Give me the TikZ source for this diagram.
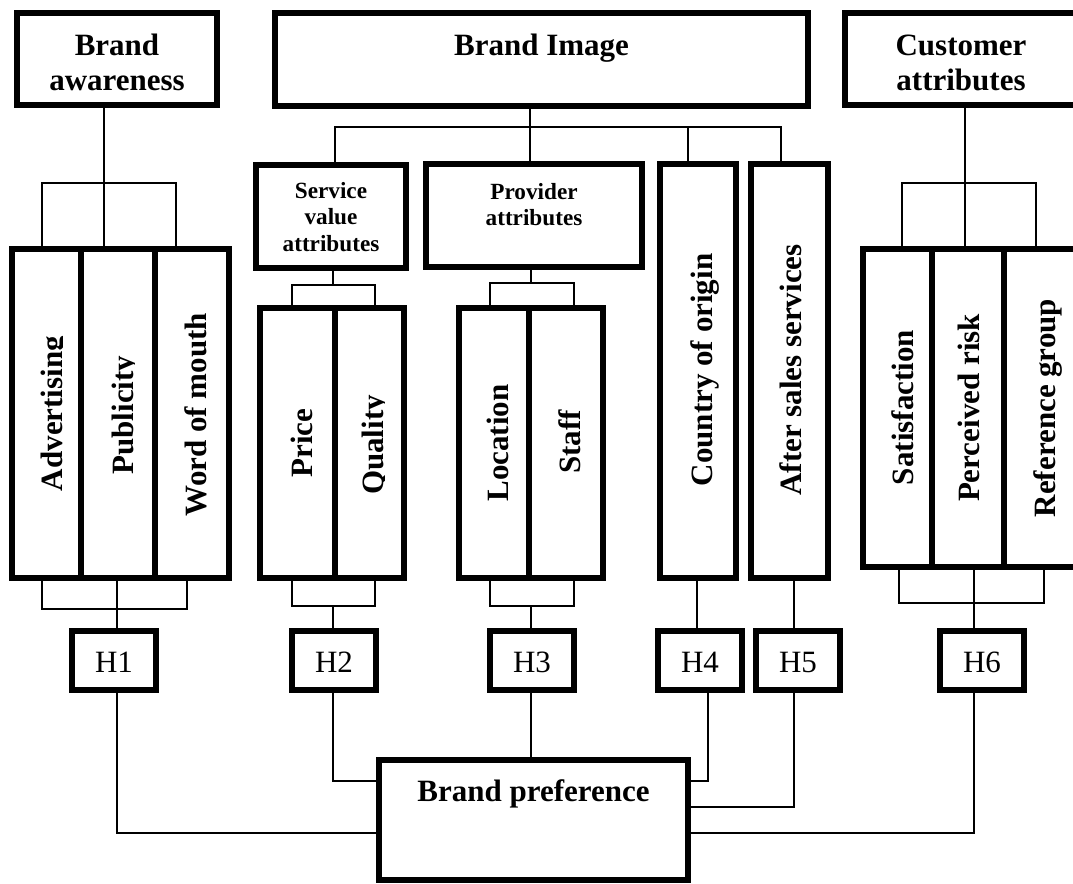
\documentclass[tikz,border=0pt]{standalone}
\usepackage{fontspec}
\setmainfont{Liberation Serif}
\begin{document}
\begin{tikzpicture}[x=0.75pt,y=-0.75pt,
  box/.style={draw, line width=4.5pt, inner sep=0pt, outer sep=0pt},
  bw/.style={minimum width=#1*0.75pt},
  bh/.style={minimum height=#1*0.75pt},
  conn/.style={draw, line width=1.4pt},
  bigtxt/.style={font=\bfseries\fontsize{23.25}{26}\selectfont, inner sep=0pt, anchor=base},
  smalltxt/.style={font=\bfseries\fontsize{17.4}{20}\selectfont, inner sep=0pt, anchor=base},
  vtxt/.style={font=\bfseries\fontsize{23.25}{26}\selectfont, inner sep=0pt, anchor=base, rotate=90},
  hbox/.style={box, bw=84, bh=59, font=\fontsize{23.25}{26}\selectfont, text height=18.3pt, text depth=0pt}
]
\useasboundingbox (0,0) rectangle (1073,883);
\clip (0,0) rectangle (1073,883);

% ---------- top boxes ----------
\node[box, bw=200, bh=92] (ba) at (117,59) {};
\node[bigtxt] (bat1) at (117,55) {Brand};
\node[bigtxt] (bat2) at (117,90.5) {awareness};

\node[box, bw=533, bh=93] (bi) at (541.5,59.5) {};
\node[bigtxt] (bit) at (541.5,55) {Brand Image};

\node[box, bw=233, bh=92] (ca) at (961.5,59) {};
\node[bigtxt] (cat1) at (961,55) {Customer};
\node[bigtxt] (cat2) at (961,90.5) {attributes};

% ---------- second level ----------
\node[box, bw=150, bh=103] (sv) at (331,216.5) {};
\node[smalltxt] (svt1) at (331,198) {Service};
\node[smalltxt] (svt2) at (331,224.5) {value};
\node[smalltxt] (svt3) at (331,251) {attributes};

\node[box, bw=216, bh=103] (pa) at (534,215.5) {};
\node[smalltxt] (pat1) at (534,199) {Provider};
\node[smalltxt] (pat2) at (534,225) {attributes};

\node[box, bw=76, bh=414] (co) at (698,371) {};
\node[vtxt] (cot) at (712,370) {Country of origin};

\node[box, bw=77, bh=414] (as) at (789.5,371) {};
\node[vtxt] (ast) at (801,370) {After sales services};

% ---------- group 1 ----------
\node[box, bw=69, bh=329] (adv) at (46.5,413.5) {};
\node[box, bw=74, bh=329] (pub) at (118,413.5) {};
\node[box, bw=74, bh=329] (wom) at (192,413.5) {};
\begin{scope}
  \clip (12,249) rectangle (62.5,578);
  \node[vtxt] (advt) at (62,413.5) {Advertising};
\end{scope}
\begin{scope}
  \clip (81,249) rectangle (134,578);
  \node[vtxt] (pubt) at (133.5,415) {Publicity};
\end{scope}
\node[vtxt] (womt) at (206,414.5) {Word of mouth};

% ---------- price / quality ----------
\node[box, bw=75, bh=270] (pr) at (297.5,443) {};
\node[box, bw=69, bh=270] (qu) at (369.5,443) {};
\node[vtxt] (prt) at (312,443) {Price};
\begin{scope}
  \clip (335,308) rectangle (384,578);
  \node[vtxt] (qut) at (383.5,445) {Quality};
\end{scope}

% ---------- location / staff ----------
\node[box, bw=70, bh=270] (lo) at (494,443) {};
\node[box, bw=74, bh=270] (st) at (566,443) {};
\node[vtxt] (lot) at (508.3,443) {Location};
\node[vtxt] (stt) at (580,442) {Staff};

% ---------- group 3 ----------
\node[box, bw=69, bh=318] (sa) at (897.5,408) {};
\node[box, bw=72, bh=318] (pe) at (968,408) {};
\node[box, bw=78, bh=318] (re) at (1043,408) {};
\begin{scope}
  \clip (863,249) rectangle (913,567);
  \node[vtxt] (sat) at (913.5,407.5) {Satisfaction};
\end{scope}
\node[vtxt] (pet) at (979.7,408) {Perceived risk};
\node[vtxt] (ret) at (1055.5,408) {Reference group};

% ---------- hypotheses ----------
\node[hbox] (h1) at (114,660.5) {H1};
\node[hbox] (h2) at (334,660.5) {H2};
\node[hbox] (h3) at (532,660.5) {H3};
\node[hbox] (h4) at (700,660.5) {H4};
\node[hbox] (h5) at (798,660.5) {H5};
\node[hbox] (h6) at (982,660.5) {H6};

% ---------- brand preference ----------
\node[box, bw=309, bh=120] (bp) at (533.5,820) {};
\node[bigtxt] (bpt) at (533.5,801.7) {Brand preference};

% ---------- connectors: brand awareness ----------
\coordinate (t1) at (104,183);
\coordinate (t1l) at (42,183);
\coordinate (t1r) at (176,183);
\draw[conn] (ba.south -| t1) -- (t1 |- adv.north);
\draw[conn] (t1l |- adv.north) -- (t1l) -- (t1r) -- (t1r |- adv.north);

\coordinate (b1l) at (42,609);
\coordinate (b1r) at (187,609);
\coordinate (b1m) at (117,609);
\draw[conn] (b1l |- adv.south) -- (b1l) -- (b1r) -- (b1r |- adv.south);
\draw[conn] (b1m |- adv.south) -- (h1.north -| b1m);
\coordinate (p1) at (117,833);
\draw[conn] (h1.south -| p1) |- (bp.west |- p1);

% ---------- connectors: brand image ----------
\coordinate (tb) at (530,127);
\coordinate (tbl) at (335,127);
\coordinate (tbr) at (781,127);
\coordinate (tbc) at (688,127);
\draw[conn] (bi.south -| tb) -- (pa.north -| tb);
\draw[conn] (sv.north -| tbl) -- (tbl) -- (tbr) -- (as.north -| tbr);
\draw[conn] (tbc) -- (co.north -| tbc);

% service value
\coordinate (s1) at (333,285);
\coordinate (s1l) at (292,285);
\coordinate (s1r) at (375,285);
\draw[conn] (sv.south -| s1) -- (s1);
\draw[conn] (s1l |- pr.north) -- (s1l) -- (s1r) -- (s1r |- qu.north);
\coordinate (s2l) at (292,606);
\coordinate (s2r) at (375,606);
\coordinate (s2m) at (333,606);
\draw[conn] (s2l |- pr.south) -- (s2l) -- (s2r) -- (s2r |- qu.south);
\draw[conn] (s2m) -- (h2.north -| s2m);
\coordinate (p2) at (333,781);
\draw[conn] (h2.south -| p2) |- (bp.west |- p2);

% provider
\coordinate (q1) at (531,283);
\coordinate (q1l) at (490,283);
\coordinate (q1r) at (574,283);
\draw[conn] (pa.south -| q1) -- (q1);
\draw[conn] (q1l |- lo.north) -- (q1l) -- (q1r) -- (q1r |- st.north);
\coordinate (q2l) at (490,606);
\coordinate (q2r) at (574,606);
\coordinate (q2m) at (531,606);
\draw[conn] (q2l |- lo.south) -- (q2l) -- (q2r) -- (q2r |- st.south);
\draw[conn] (q2m) -- (h3.north -| q2m);
\draw[conn] (h3.south -| q2m) -- (bp.north -| q2m);

% country of origin
\coordinate (c4) at (697,600);
\draw[conn] (co.south -| c4) -- (h4.north -| c4);
\coordinate (p4) at (708,781);
\draw[conn] (h4.south -| p4) |- (bp.east |- p4);

% after sales
\coordinate (c5) at (794,807);
\draw[conn] (as.south -| c5) -- (h5.north -| c5);
\draw[conn] (h5.south -| c5) |- (bp.east |- c5);

% ---------- connectors: customer attributes ----------
\coordinate (u1) at (965,183);
\coordinate (u1l) at (902,183);
\coordinate (u1r) at (1036,183);
\draw[conn] (ca.south -| u1) -- (u1 |- sa.north);
\draw[conn] (u1l |- sa.north) -- (u1l) -- (u1r) -- (u1r |- sa.north);

\coordinate (v1l) at (899,603);
\coordinate (v1r) at (1044,603);
\coordinate (v1m) at (974,603);
\draw[conn] (v1l |- sa.south) -- (v1l) -- (v1r) -- (v1r |- sa.south);
\draw[conn] (v1m |- sa.south) -- (h6.north -| v1m);
\coordinate (p6) at (974,833);
\draw[conn] (h6.south -| p6) |- (bp.east |- p6);
\end{tikzpicture}
\end{document}
